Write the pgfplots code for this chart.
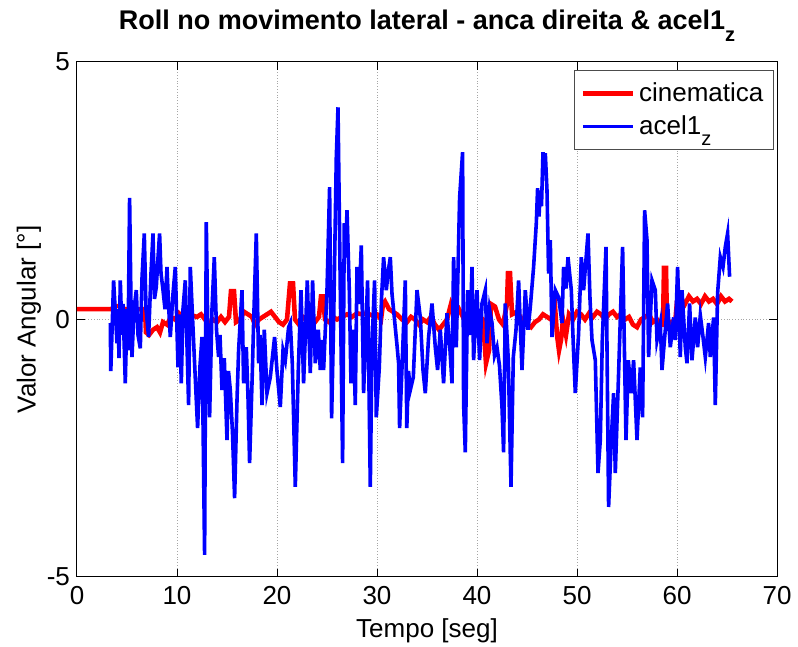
\documentclass[border=0pt]{standalone}
\usepackage{pgfplots}
\pgfplotsset{compat=1.18}
\usepackage{fontspec}
\setmainfont{Liberation Sans}
\begin{document}
\begin{tikzpicture}
\begin{axis}[
  scale only axis,
  width=350pt, height=257.5pt,
  xmin=0, xmax=70, ymin=-5, ymax=5,
  xtick={0,10,...,70}, ytick={-5,0,5},
  tick align=inside,
  major tick length=4pt,
  grid=major,
  major grid style={densely dotted, gray!70, line width=0.5pt},
  axis line style={black, line width=0.5pt},
  every tick/.style={black, line width=0.5pt},
  /pgf/number format/assume math mode=true,
  tick label style={font=\fontsize{13}{15}\selectfont},
  xticklabel style={yshift=-1pt},
  label style={font=\fontsize{13}{15}\selectfont},
  xlabel={Tempo [seg]},
  ylabel={Valor Angular [°]},
  xlabel style={yshift=0pt},
  ylabel style={yshift=-4pt},
  title={\textbf{Roll no movimento lateral - anca direita \& acel1\raisebox{-0.8ex}{\fontsize{10}{12}\selectfont z}}},
  title style={font=\fontsize{13.5}{16}\selectfont, at={(0.5,1)}, anchor=base, yshift=10pt},
  legend style={at={(1,1)}, anchor=north east, xshift=-1.5pt, yshift=-4pt,
    draw=black!70, line width=0.6pt, font=\fontsize{13}{14.5}\selectfont,
    inner xsep=3pt, inner ysep=4pt, row sep=1.5pt},
  legend cell align=left,
  legend image code/.code={\draw[#1] (0pt,0pt) -- (25pt,0pt);},
]
\addplot[red, line width=2.3pt] coordinates {
(0,0.2) (3.5,0.2) (3.7,0.26) (4.5,0.26) (4.7,0.2) (6.8,0.2) (6.9,-0.25) (7.2,-0.3) (7.6,-0.2) (8.0,-0.15) (8.3,-0.25) (8.6,-0.05) (9.0,-0.1) (9.4,0.05) (9.8,0.0) (10.2,0.12) (10.6,0.05) (11.0,0.15) (11.5,0.08) (12.0,0.05) (12.4,0.1) (12.8,0.0) (13.2,-0.1) (13.6,0.0) (14.0,-0.05) (14.4,0.05) (14.8,-0.05) (15.2,0.05) (15.4,0.55) (15.7,0.55) (15.9,-0.05) (16.3,0.0) (16.7,0.15) (17.1,0.1) (17.5,0.05) (17.8,-0.1) (18.2,0.0) (18.6,0.05) (19.0,0.1) (19.4,0.15) (19.8,0.05) (20.2,-0.05) (20.6,-0.1) (21.0,0.0) (21.3,0.7) (21.6,0.7) (21.8,0.0) (22.2,-0.1) (22.6,0.05) (23.0,0.0) (23.4,0.1) (23.8,-0.05) (24.2,0.05) (24.4,0.45) (24.6,0.45) (24.8,0.0) (25.2,-0.05) (25.6,0.05) (26.0,0.0) (26.5,0.05) (27.0,0.1) (27.5,0.05) (28.0,0.12) (28.5,0.1) (29.0,0.12) (29.5,0.08) (30.0,0.1) (30.4,0.0) (30.6,0.3) (30.8,0.35) (31.2,0.2) (31.6,0.15) (32.0,0.1) (32.5,0.0) (33.0,-0.05) (33.4,0.05) (33.8,0.0) (34.2,-0.1) (34.6,0.0) (35.0,-0.05) (35.4,0.05) (35.8,-0.1) (36.2,-0.2) (36.6,-0.1) (37.0,0.0) (37.4,0.3) (37.8,0.1) (38.2,0.2) (38.6,0.05) (39.0,0.1) (39.5,0.05) (40.0,0.1) (40.6,0.0) (40.9,-0.85) (41.2,-0.6) (41.4,0.3) (41.8,0.25) (42.2,0.0) (42.6,-0.1) (43.0,0.3) (43.1,0.9) (43.3,0.9) (43.5,0.1) (44.0,0.15) (44.5,0.0) (45.0,-0.1) (45.4,-0.15) (45.8,-0.05) (46.2,0.0) (46.6,0.1) (47.0,0.05) (47.4,0.0) (47.8,0.25) (48.0,-0.3) (48.2,-0.6) (48.4,-0.4) (48.6,0.0) (48.9,-0.3) (49.2,0.1) (49.6,0.0) (50.0,0.15) (50.4,0.1) (50.8,0.0) (51.2,0.12) (51.6,0.05) (52.0,0.15) (52.4,0.1) (52.8,0.0) (53.2,0.1) (53.6,0.15) (54.0,0.05) (54.4,0.1) (54.8,0.0) (55.2,0.05) (55.6,-0.1) (56.0,-0.15) (56.4,0.0) (56.8,0.05) (57.2,0.1) (57.6,-0.05) (58.0,0.0) (58.4,-0.1) (58.6,-0.1) (58.7,1.0) (58.9,1.0) (59.0,-0.1) (59.4,-0.05) (59.8,-0.1) (60.0,0.35) (60.4,0.4) (60.8,0.3) (61.2,0.45) (61.6,0.35) (62.0,0.4) (62.4,0.3) (62.8,0.45) (63.2,0.35) (63.6,0.4) (64.0,0.3) (64.4,0.45) (64.8,0.35) (65.2,0.4) (65.5,0.35)
};
\addlegendentry{cinematica}
\addplot[blue, line width=1.8pt] coordinates {
(3.33,-0.07) (3.38,-1.0) (3.66,0.76) (4.0,-0.46) (4.1,0.2) (4.2,-0.75) (4.33,0.76) (4.5,-0.3) (4.6,0.3) (4.83,-1.24) (5.0,0.2) (5.1,-0.6) (5.26,2.36) (5.4,0.3) (5.5,-0.73) (5.7,0.2) (5.93,0.57) (6.1,-0.3) (6.33,-0.56) (6.5,0.8) (6.73,1.67) (6.9,0.2) (7.16,-0.34) (7.4,0.9) (7.6,1.67) (7.75,0.4) (7.93,0.63) (8.1,1.2) (8.26,1.67) (8.4,0.9) (8.6,0.57) (8.8,0.2) (9.0,1.02) (9.15,0.3) (9.33,-0.34) (9.6,0.5) (9.83,1.02) (10.1,-0.93) (10.25,0.1) (10.43,-1.24) (10.6,0.2) (10.83,0.76) (11.0,-0.5) (11.16,-1.66) (11.33,1.02) (11.7,-0.6) (12.06,-2.11) (12.3,-0.9) (12.5,-0.34) (12.76,-4.57) (12.93,1.89) (13.1,-0.5) (13.26,-1.9) (13.5,0.2) (13.73,1.21) (13.95,-0.2) (14.16,-0.73) (14.3,-0.3) (14.5,-1.37) (14.73,-0.75) (15.0,-2.34) (15.15,-1.0) (15.33,-1.37) (15.55,-2.2) (15.76,-3.47) (16.0,-1.57) (16.16,-0.6) (16.5,0.57) (16.66,-1.24) (16.93,-0.54) (17.1,-1.5) (17.26,-2.79) (17.53,-1.04) (17.66,-0.07) (17.93,1.67) (18.16,-0.85) (18.3,-0.3) (18.5,-1.66) (18.73,-0.2) (19.0,-1.43) (19.33,-1.12) (19.76,-0.34) (20.0,-1.0) (20.33,-1.7) (20.6,-0.6) (20.83,-0.79) (21.16,-0.15) (21.33,-0.07) (21.53,-0.85) (21.83,-3.25) (22.13,-0.98) (22.4,0.57) (22.66,-1.24) (23.03,0.76) (23.2,-0.3) (23.33,-1.04) (23.56,0.76) (23.83,-0.85) (24.13,-0.2) (24.33,-0.98) (24.5,-0.4) (24.66,-0.98) (25.0,0.57) (25.26,2.57) (25.46,-1.92) (25.66,-0.07) (25.93,3.15) (26.1,4.12) (26.33,0.57) (26.56,-2.79) (26.73,1.87) (26.85,1.2) (27.0,2.12) (27.23,0.57) (27.4,-1.24) (27.63,-0.2) (27.83,-1.66) (28.0,1.02) (28.2,0.3) (28.43,1.44) (28.66,-1.43) (29.06,0.76) (29.33,-3.25) (29.5,-0.5) (29.76,0.76) (29.93,-1.9) (30.23,-0.93) (30.45,0.4) (30.66,1.21) (30.93,0.57) (31.1,0.9) (31.33,1.21) (31.5,0.5) (31.73,0.04) (32.0,-0.5) (32.16,-0.85) (32.26,-2.11) (32.53,-0.79) (32.83,0.76) (32.98,-2.11) (33.15,-1.0) (33.33,-1.37) (33.63,-1.12) (34.0,0.57) (34.33,0.04) (34.6,-0.98) (34.83,-1.43) (35.16,-0.34) (35.5,0.31) (35.83,-0.54) (36.06,-0.98) (36.33,-0.2) (36.66,-1.24) (37.0,0.12) (37.3,-0.6) (37.5,-1.24) (37.66,1.21) (37.93,-0.54) (38.26,2.36) (38.56,3.25) (38.66,-1.63) (38.83,-2.58) (39.06,0.57) (39.3,-0.3) (39.5,1.02) (39.66,-0.79) (40.0,0.57) (40.26,-0.79) (40.5,0.31) (40.83,0.57) (41.0,-0.46) (41.25,0.2) (41.5,-0.07) (41.75,-0.7) (42.0,-0.54) (42.25,-0.9) (42.5,-1.7) (42.66,-2.58) (42.83,0.31) (43.13,-0.79) (43.4,-3.25) (43.63,-0.73) (43.9,-0.2) (44.16,0.76) (44.5,-0.98) (44.83,0.57) (45.1,-0.2) (45.33,0.24) (45.66,1.02) (45.93,1.87) (46.06,2.55) (46.2,2.0) (46.33,2.5) (46.45,2.2) (46.6,3.25) (46.7,2.8) (46.83,3.23) (47.0,2.5) (47.16,0.89) (47.33,1.54) (47.5,-0.34) (47.83,0.57) (48.16,0.43) (48.5,-0.07) (48.66,1.02) (48.9,0.6) (49.1,1.21) (49.43,0.57) (49.65,-0.6) (49.83,-1.43) (50.16,-0.27) (50.43,1.21) (50.66,0.57) (51.1,1.67) (51.3,0.4) (51.5,-0.4) (51.83,-0.79) (52.1,-2.98) (52.33,-2.34) (52.53,-0.4) (52.9,1.41) (53.16,-3.64) (53.43,-2.34) (53.66,-1.43) (53.83,-2.98) (54.16,-1.04) (54.56,1.41) (54.9,-2.34) (55.13,-0.79) (55.43,-1.43) (55.66,-0.79) (56.0,-2.34) (56.33,-0.93) (56.56,-1.9) (56.76,2.12) (57.0,1.54) (57.16,-0.73) (57.5,0.76) (57.83,0.57) (58.0,-0.4) (58.33,-0.07) (58.5,-0.98) (58.83,-0.2) (59.06,0.31) (59.33,-0.54) (59.66,0.04) (59.83,-0.4) (60.06,1.02) (60.33,-0.73) (60.5,0.57) (60.83,-0.54) (61.0,-0.85) (61.26,0.31) (61.5,-0.79) (61.83,0.04) (62.06,-0.54) (62.33,0.08) (62.6,-0.34) (62.83,-0.73) (63.16,-0.07) (63.33,-0.73) (63.66,0.04) (63.83,-1.66) (64.06,0.51) (64.33,1.21) (64.6,1.02) (64.83,1.41) (65.06,1.67) (65.26,0.83)
};
\addlegendentry{acel1\raisebox{-0.8ex}{\fontsize{10}{12}\selectfont z}}
\end{axis}
\pgfresetboundingbox
\path[use as bounding box] (-38.5pt,-35pt) rectangle (360.5pt,288.5pt);
\end{tikzpicture}
\end{document}
